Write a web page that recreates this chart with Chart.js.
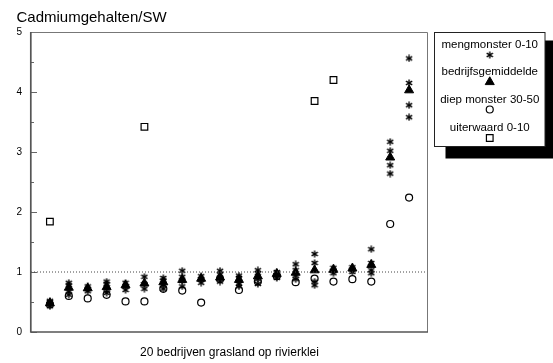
<!DOCTYPE html>
<html><head><meta charset="utf-8">
<script src="https://cdn.jsdelivr.net/npm/chart.js@4.4.1/dist/chart.umd.min.js"></script>
<style>html,body{margin:0;padding:0;background:#fff;}#wrap{width:553px;height:363px;position:relative;}</style>
</head><body><div id="wrap"><canvas id="c" width="553" height="363"></canvas></div>
<script>
// ---- data ----
const companies = [1,2,3,4,5,6,7,8,9,10,11,12,13,14,15,16,17,18,19,20];
const mengmonster = [
  [0.43,0.47,0.50,0.52],
  [0.62,0.68,0.78,0.82],
  [0.68,0.72,0.76],
  [0.65,0.72,0.80,0.84],
  [0.70,0.76,0.82],
  [0.72,0.80,0.92],
  [0.72,0.78,0.86,0.90],
  [0.76,0.85,0.92,1.02],
  [0.82,0.88,0.93],
  [0.84,0.90,0.96,1.02],
  [0.76,0.80,0.90,0.94],
  [0.80,0.88,0.98,1.03],
  [0.90,0.94,0.98,1.00],
  [0.88,0.94,1.03,1.13],
  [0.78,0.84,1.15,1.30],
  [0.98,1.02,1.07],
  [1.00,1.04,1.08],
  [0.98,1.03,1.15,1.38],
  [2.64,2.78,3.02,3.17],
  [3.58,3.78,4.15,4.56]
];
const bedrijfsgemiddelde = [0.48,0.74,0.73,0.75,0.78,0.81,0.83,0.87,0.89,0.91,0.87,0.93,0.97,0.99,1.03,1.04,1.06,1.12,2.91,4.03];
const diepMonster = [0.46,0.60,0.56,0.62,0.51,0.51,0.72,0.69,0.49,0.88,0.70,0.84,0.93,0.83,0.89,0.84,0.88,0.84,1.80,2.24];
const uiterwaard = [1.84,null,null,null,null,3.42,null,null,null,null,null,null,null,null,3.85,4.20,null,null,null,null];
const yTicks = [0,1,2,3,4,5];
const referentieNiveau = 1;
const yTitle = 'Cadmiumgehalten/SW';
const xTitle = '20 bedrijven grasland op rivierklei';
const legendLabels = ['mengmonster 0-10','bedrijfsgemiddelde','diep monster 30-50','uiterwaard 0-10'];

// ---- marker ----
function makeAsterisk(size){
  const c=document.createElement('canvas'); c.width=size; c.height=size;
  const g=c.getContext('2d'); g.strokeStyle='#000'; g.lineWidth=1.4;
  const cx=size/2, r=size/2-0.4;
  [90,30,150].forEach(a=>{const t=a*Math.PI/180; g.beginPath(); g.moveTo(cx-r*Math.cos(t),cx-r*Math.sin(t)); g.lineTo(cx+r*Math.cos(t),cx+r*Math.sin(t)); g.stroke();});
  return c;
}
const asterisk = makeAsterisk(8);

const mengPoints=[];
mengmonster.forEach((arr,i)=>arr.forEach(v=>mengPoints.push({x:companies[i],y:v})));
const toPts = arr => arr.map((v,i)=>({x:companies[i],y:v})).filter(p=>p.y!==null);

const FONT='"Liberation Sans", Arial, Helvetica, sans-serif';
const styles=[
  {pointStyle:asterisk,radius:4,borderWidth:1,borderColor:'#000',backgroundColor:'#000'},
  {pointStyle:'triangle',radius:5.2,borderWidth:1,borderColor:'#000',backgroundColor:'#000'},
  {pointStyle:'circle',radius:3.5,borderWidth:1.2,borderColor:'#000',backgroundColor:'rgba(0,0,0,0)'},
  {pointStyle:'rect',radius:4.7,borderWidth:1.2,borderColor:'#000',backgroundColor:'rgba(0,0,0,0)'}
];

const decor={
  id:'decor',
  beforeDatasetsDraw(chart){
    const {ctx,chartArea:a,scales:{x,y}}=chart;
    ctx.save();
    ctx.strokeStyle='#666'; ctx.lineWidth=1;
    for(let v=0; v<=5; v+=0.5){
      const py=Math.round(y.getPixelForValue(v))+0.5;
      const len = (v%1===0)?6:3;
      ctx.beginPath(); ctx.moveTo(a.left,py); ctx.lineTo(a.left+len,py); ctx.stroke();
    }
    ctx.restore();
  },
  afterDraw(chart){
    const {ctx,chartArea:a}=chart;
    ctx.save();
    ctx.strokeStyle='#777'; ctx.lineWidth=1;
    ctx.beginPath(); ctx.moveTo(a.left,a.top+0.5); ctx.lineTo(a.right-0.5,a.top+0.5); ctx.lineTo(a.right-0.5,a.bottom); ctx.stroke();
    ctx.strokeStyle='#555'; ctx.lineWidth=1.7;
    ctx.beginPath(); ctx.moveTo(a.left-0.2,a.top); ctx.lineTo(a.left-0.2,a.bottom); ctx.lineTo(a.right,a.bottom); ctx.stroke();
    ctx.fillStyle='#000'; ctx.textBaseline='alphabetic';
    ctx.font='15px '+FONT; ctx.textAlign='left';
    ctx.fillText(yTitle,16.5,21.5);
    ctx.font='12px '+FONT; ctx.textAlign='center';
    ctx.fillText(xTitle,(a.left+a.right)/2,356);
    const L=434.5,T=32.5,W=110.5,H=114;
    ctx.fillStyle='#000'; ctx.fillRect(L+11,T+8,W+1,H+4);
    ctx.fillStyle='#fff'; ctx.fillRect(L,T,W,H);
    ctx.strokeStyle='#222'; ctx.lineWidth=1; ctx.strokeRect(L,T,W,H);
    const cx=L+W/2;
    const textY=[45,72,99.5,128], markY=[55,82,109.5,138];
    ctx.font='11.5px '+FONT; ctx.textAlign='center'; ctx.textBaseline='middle';
    legendLabels.forEach((t,i)=>{
      ctx.fillStyle='#000';
      ctx.fillText(t,cx,textY[i]);
      const s=styles[i];
      ctx.strokeStyle=s.borderColor; ctx.fillStyle=s.backgroundColor; ctx.lineWidth=s.borderWidth;
      Chart.helpers.drawPoint(ctx,{pointStyle:s.pointStyle,radius:s.radius,rotation:0,borderWidth:s.borderWidth},cx,markY[i]);
    });
    ctx.restore();
  }
};

const mk=(label,data,s)=>({type:'scatter',label,data,showLine:false,pointRadius:s.radius,pointStyle:s.pointStyle,pointBorderColor:s.borderColor,pointBackgroundColor:s.backgroundColor,pointBorderWidth:s.borderWidth,pointHoverRadius:s.radius});

new Chart(document.getElementById('c'),{
  type:'scatter',
  data:{datasets:[
    {type:'line',label:'ref',data:[{x:0,y:referentieNiveau},{x:21,y:referentieNiveau}],borderColor:'#444',borderWidth:1,borderDash:[1,2],pointRadius:0,fill:false},
    mk(legendLabels[0],mengPoints,styles[0]),
    mk(legendLabels[1],toPts(bedrijfsgemiddelde),styles[1]),
    mk(legendLabels[2],toPts(diepMonster),styles[2]),
    mk(legendLabels[3],toPts(uiterwaard),styles[3])
  ]},
  options:{
    responsive:false,animation:false,devicePixelRatio:1,
    layout:{padding:{left:0,top:32,right:125,bottom:31}},
    plugins:{legend:{display:false},tooltip:{enabled:false},title:{display:false}},
    scales:{
      x:{type:'linear',min:0,max:21,display:false},
      y:{type:'linear',min:0,max:5,
         afterFit(s){s.width=31;},
         afterBuildTicks(s){s.ticks=yTicks.map(v=>({value:v}));},
         grid:{display:false,drawTicks:false},border:{display:false},
         ticks:{padding:9,color:'#000',font:{family:FONT,size:10}}}
    }
  },
  plugins:[decor]
});
</script></body></html>
